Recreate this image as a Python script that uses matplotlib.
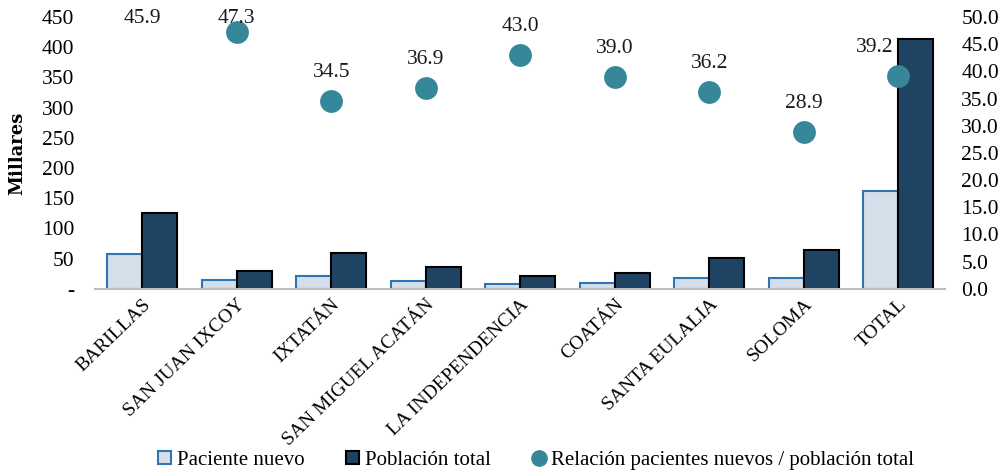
import numpy as np
import matplotlib
matplotlib.use("Agg")
import matplotlib.pyplot as plt
from matplotlib.patches import Patch
from matplotlib.lines import Line2D
from matplotlib.ticker import FuncFormatter
from matplotlib.transforms import ScaledTranslation

plt.rcParams['font.family'] = ['Liberation Serif', 'DejaVu Serif']

# Data (miles de personas)
municipios = ['BARILLAS', 'SAN JUAN IXCOY', 'IXTATÁN', 'SAN MIGUEL ACATÁN',
              'LA INDEPENDENCIA', 'COATÁN', 'SANTA EULALIA', 'SOLOMA', 'TOTAL']
paciente_nuevo = [57, 14.5, 20.5, 13.5, 8.8, 10, 18.5, 18.5, 162]
poblacion_total = [126, 30, 60, 37, 20.5, 26, 51, 64, 413]
relacion = [45.9, 47.3, 34.5, 36.9, 43.0, 39.0, 36.2, 28.9, 39.2]
mostrar_punto = [False, True, True, True, True, True, True, True, True]
# horizontal shift (points) of each ratio label
label_dx = [0, 0, 0, 0, 0, 0, 0, 0, -17]

c_light = '#d5dfea'
c_light_edge = '#2e75b6'
c_dark = '#1f4463'
c_dot = '#36879a'
fs = 15

fig = plt.figure(figsize=(10.04, 4.72), dpi=100)
ax = fig.add_axes([0.0946, 0.388, 0.847, 0.576])
ax2 = ax.twinx()

x = np.arange(len(municipios))
w = 0.37
ax.bar(x - w / 2, paciente_nuevo, w, color=c_light, edgecolor=c_light_edge, linewidth=1.5, zorder=2)
ax.bar(x + w / 2, poblacion_total, w, color=c_dark, edgecolor='black', linewidth=1.5, zorder=2)

ax.set_xlim(-0.5, len(municipios) - 0.5)
ax.set_ylim(0, 450)
ax.set_yticks(np.arange(0, 451, 50))
ax.yaxis.set_major_formatter(FuncFormatter(lambda v, p: '-' if v == 0 else f'{v:.0f}'))
ax.set_xticks(x)
ax.set_xticklabels(municipios, rotation=44, ha='right', va='top', rotation_mode='anchor', fontsize=14)
# nudge the rotated category labels to the right a bit
for lbl in ax.get_xticklabels():
    lbl.set_transform(lbl.get_transform() + ScaledTranslation(0.1, 0, fig.dpi_scale_trans))
ax.tick_params(axis='y', length=0, labelsize=15.5, pad=15)
ax.tick_params(axis='x', length=0, pad=5)
ax.set_ylabel('Millares', fontsize=13, fontweight='bold', family='DejaVu Serif', labelpad=11)

for s in ['top', 'right', 'left']:
    ax.spines[s].set_visible(False)
ax.spines['bottom'].set_color('#bfbfbf')
ax.spines['bottom'].set_linewidth(1.5)

xs = [xi for xi, m in zip(x, mostrar_punto) if m]
ys = [r for r, m in zip(relacion, mostrar_punto) if m]
ax2.scatter(xs, ys, s=270, color=c_dot, zorder=3, linewidths=0)
# labels sit above the dots, kept inside the plot area
for xi, r, dx in zip(x, relacion, label_dx):
    ax2.annotate(f'{r:.1f}', (xi, min(r + 5.2, 49.7)), xytext=(dx, 0), textcoords='offset points',
                 ha='center', va='center', fontsize=15.5, color='#1a1a1a')

ax2.set_ylim(0, 50)
ax2.set_yticks(np.arange(0, 50.1, 5))
ax2.yaxis.set_major_formatter(FuncFormatter(lambda v, p: f'{v:.1f}'))
ax2.tick_params(axis='y', length=0, labelsize=15.5, pad=11.5)
for s in ax2.spines.values():
    s.set_visible(False)

handles = [
    Patch(facecolor=c_light, edgecolor=c_light_edge, linewidth=1.5, label='Paciente nuevo'),
    Patch(facecolor=c_dark, edgecolor='black', linewidth=1.5, label='Población total'),
    Line2D([], [], marker='o', linestyle='none', markersize=11, color=c_dot,
           label='Relación pacientes nuevos / población total'),
]
fig.legend(handles=handles, loc='center', bbox_to_anchor=(0.534, 0.024), ncol=3, frameon=False,
           fontsize=fs, handlelength=0.6, handleheight=0.6, handletextpad=0.3, columnspacing=2.0)

fig.savefig('out.png', dpi=100)
